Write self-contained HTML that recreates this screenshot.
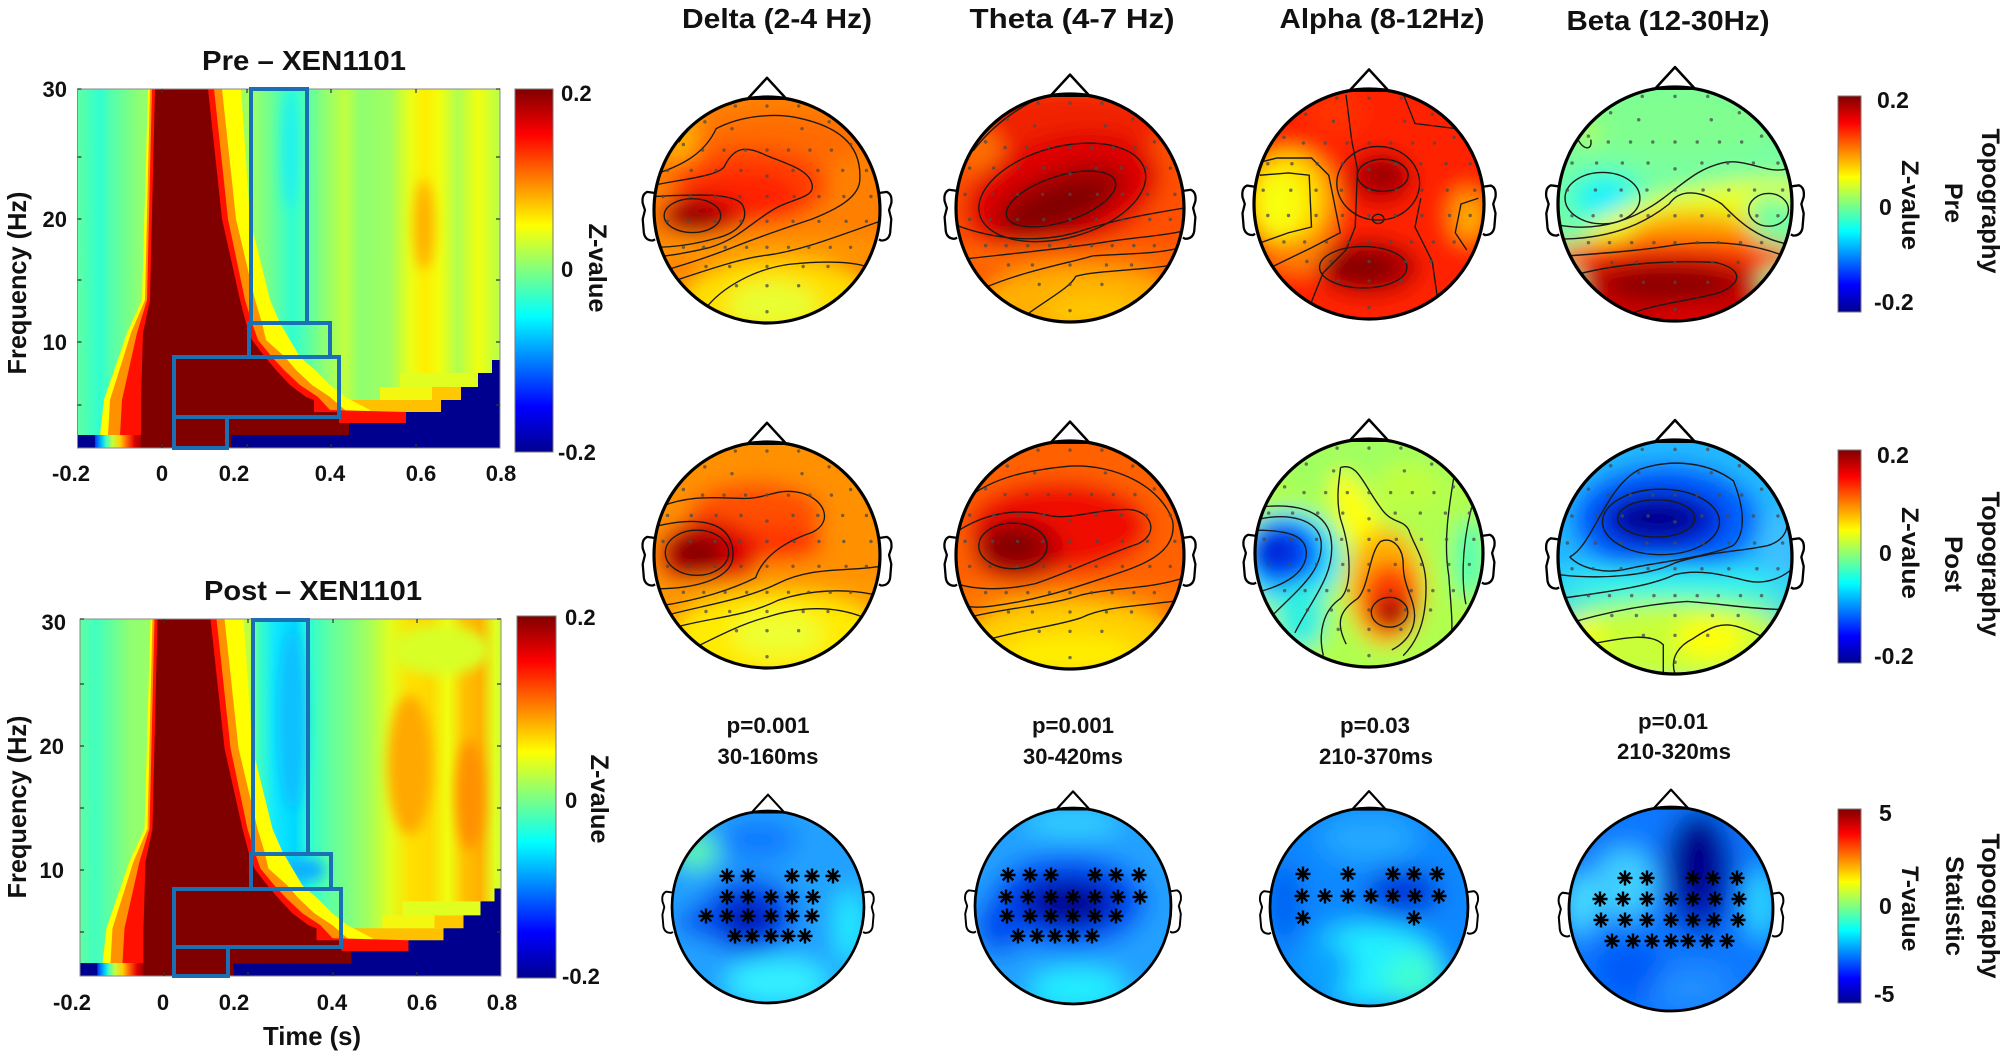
<!DOCTYPE html>
<html><head><meta charset="utf-8">
<style>
html,body{margin:0;padding:0;background:#fff}
svg{display:block}
text{font-family:"Liberation Sans",Arial,sans-serif;font-weight:bold;fill:#111}
</style></head>
<body>
<svg width="2006" height="1056" viewBox="0 0 2006 1056" xmlns="http://www.w3.org/2000/svg">
<defs>
<linearGradient id="jet" x1="0" y1="0" x2="0" y2="1">
<stop offset="0" stop-color="#800000"/><stop offset=".125" stop-color="#ff0000"/><stop offset=".375" stop-color="#ffff00"/><stop offset=".5" stop-color="#80ff80"/><stop offset=".625" stop-color="#00ffff"/><stop offset=".875" stop-color="#0000ff"/><stop offset="1" stop-color="#00008f"/>
</linearGradient>
<linearGradient id="hbPre" gradientUnits="userSpaceOnUse" x1="77.5" y1="0" x2="500" y2="0">
<stop offset="0" stop-color="#60ffa0"/><stop offset=".034" stop-color="#40ffc0"/><stop offset=".053" stop-color="#30ffd0"/><stop offset=".077" stop-color="#50ffb0"/><stop offset=".112" stop-color="#70ff90"/><stop offset=".148" stop-color="#90ff70"/><stop offset=".408" stop-color="#a0ff60"/><stop offset=".456" stop-color="#70ff90"/><stop offset=".508" stop-color="#30ffd0"/><stop offset=".538" stop-color="#50ffb0"/><stop offset=".586" stop-color="#90ff70"/><stop offset=".633" stop-color="#c0ff40"/><stop offset=".669" stop-color="#90ff70"/><stop offset=".74" stop-color="#a0ff60"/><stop offset=".787" stop-color="#e8ff18"/><stop offset=".822" stop-color="#ffee00"/><stop offset=".858" stop-color="#f0ff10"/><stop offset=".9" stop-color="#b0ff50"/><stop offset=".948" stop-color="#f0ff10"/><stop offset="1" stop-color="#b8ff48"/>
</linearGradient>
<linearGradient id="hbPost" gradientUnits="userSpaceOnUse" x1="80" y1="0" x2="501" y2="0">
<stop offset="0" stop-color="#60ffa0"/><stop offset=".036" stop-color="#40ffc0"/><stop offset=".071" stop-color="#60ffa0"/><stop offset=".119" stop-color="#90ff70"/><stop offset=".404" stop-color="#c0ff40"/><stop offset=".423" stop-color="#40ffc0"/><stop offset=".463" stop-color="#10e8ff"/><stop offset=".51" stop-color="#00d8ff"/><stop offset=".546" stop-color="#30ffd0"/><stop offset=".594" stop-color="#60ffa0"/><stop offset=".641" stop-color="#80ff80"/><stop offset=".689" stop-color="#a8ff58"/><stop offset=".736" stop-color="#e0ff20"/><stop offset=".784" stop-color="#ffe000"/><stop offset=".831" stop-color="#ffd800"/><stop offset=".874" stop-color="#f0ff10"/><stop offset=".914" stop-color="#ffc000"/><stop offset=".95" stop-color="#ffb000"/><stop offset=".986" stop-color="#e0ff20"/><stop offset="1" stop-color="#d0ff30"/>
</linearGradient>
<linearGradient id="brow" gradientUnits="userSpaceOnUse" x1="77.5" y1="0" x2="141" y2="0">
<stop offset="0" stop-color="#00008f"/><stop offset=".27" stop-color="#00008f"/><stop offset=".28" stop-color="#0040ff"/><stop offset=".38" stop-color="#00c0ff"/><stop offset=".45" stop-color="#40ffc0"/><stop offset=".55" stop-color="#c0ff40"/><stop offset=".67" stop-color="#ffd000"/><stop offset=".78" stop-color="#ff6000"/><stop offset=".9" stop-color="#e00000"/><stop offset="1" stop-color="#a00000"/>
</linearGradient>
<filter id="bl" x="-20%" y="-20%" width="140%" height="140%"><feGaussianBlur stdDeviation="9"/></filter>
<filter id="bl2" x="-20%" y="-20%" width="140%" height="140%"><feGaussianBlur stdDeviation="13"/></filter>
<filter id="hb" x="-50%" y="-50%" width="200%" height="200%"><feGaussianBlur stdDeviation="6"/></filter>
<clipPath id="cc"><circle cx="0" cy="0" r="100"/></clipPath>
<clipPath id="cpre"><rect x="77.5" y="89" width="422.5" height="359"/></clipPath>
<clipPath id="cpost"><rect x="80" y="619" width="421" height="357"/></clipPath>

<g id="head">
<polygon points="-17,-98.5 0,-117 17,-98.5" fill="#fff" stroke="#000" stroke-width="2.2" stroke-linejoin="round"/>
<path d="M-99,-15 L-106,-16 Q-111,-14 -110,-6 L-108,0 L-110,8 L-109,20 Q-108,27 -101,27 L-99,26" fill="#fff" stroke="#000" stroke-width="2"/>
<path d="M99,-15 L106,-16 Q111,-14 110,-6 L108,0 L110,8 L109,20 Q108,27 101,27 L99,26" fill="#fff" stroke="#000" stroke-width="2"/>
<circle cx="0" cy="0" r="100" fill="none" stroke="#000" stroke-width="2.8"/>
</g>

<g id="el" fill="#4a4a4a" opacity=".75">
<circle cx="-28" cy="-92" r="1.5"/><circle cx="0" cy="-92" r="1.5"/><circle cx="28" cy="-92" r="1.5"/>
<circle cx="-55" cy="-78" r="1.5"/><circle cx="55" cy="-78" r="1.5"/><circle cx="-31" cy="-72" r="1.5"/><circle cx="31" cy="-72" r="1.5"/>
<circle cx="-74" cy="-58" r="1.5"/><circle cx="74" cy="-58" r="1.5"/>
<circle cx="-57" cy="-53" r="1.5"/><circle cx="-38" cy="-53" r="1.5"/><circle cx="-19" cy="-53" r="1.5"/><circle cx="0" cy="-53" r="1.5"/><circle cx="19" cy="-53" r="1.5"/><circle cx="38" cy="-53" r="1.5"/><circle cx="57" cy="-53" r="1.5"/>
<circle cx="-88" cy="-35" r="1.5"/><circle cx="-67" cy="-35" r="1.5"/><circle cx="-45" cy="-35" r="1.5"/><circle cx="-23" cy="-35" r="1.5"/><circle cx="23" cy="-35" r="1.5"/><circle cx="45" cy="-35" r="1.5"/><circle cx="67" cy="-35" r="1.5"/><circle cx="88" cy="-35" r="1.5"/><circle cx="0" cy="-30" r="1.5"/>
<circle cx="-92" cy="-12" r="1.5"/><circle cx="-68" cy="-12" r="1.5"/><circle cx="-46" cy="-12" r="1.5"/><circle cx="-24" cy="-12" r="1.5"/><circle cx="0" cy="-12" r="1.5"/><circle cx="24" cy="-12" r="1.5"/><circle cx="46" cy="-12" r="1.5"/><circle cx="68" cy="-12" r="1.5"/><circle cx="92" cy="-12" r="1.5"/>
<circle cx="-88" cy="10" r="1.5"/><circle cx="-70" cy="10" r="1.5"/><circle cx="-46" cy="10" r="1.5"/><circle cx="-23" cy="10" r="1.5"/><circle cx="0" cy="10" r="1.5"/><circle cx="23" cy="10" r="1.5"/><circle cx="46" cy="10" r="1.5"/><circle cx="70" cy="10" r="1.5"/><circle cx="88" cy="10" r="1.5"/>
<circle cx="-74" cy="33" r="1.5"/><circle cx="-56" cy="33" r="1.5"/><circle cx="-37" cy="33" r="1.5"/><circle cx="-18" cy="33" r="1.5"/><circle cx="0" cy="33" r="1.5"/><circle cx="19" cy="33" r="1.5"/><circle cx="37" cy="33" r="1.5"/><circle cx="56" cy="33" r="1.5"/><circle cx="74" cy="33" r="1.5"/>
<circle cx="-54" cy="50" r="1.5"/><circle cx="-33" cy="50" r="1.5"/><circle cx="0" cy="50" r="1.5"/><circle cx="32" cy="50" r="1.5"/><circle cx="54" cy="50" r="1.5"/>
<circle cx="-27" cy="67" r="1.5"/><circle cx="0" cy="67" r="1.5"/><circle cx="28" cy="67" r="1.5"/><circle cx="0" cy="90" r="1.5"/>
</g>

<g id="st"><path d="M-7.5,0H7.5M0,-7.5V7.5M-5.3,-5.3L5.3,5.3M-5.3,5.3L5.3,-5.3" stroke="#000" stroke-width="2.4" fill="none"/><circle r="2.2" fill="#000"/></g>

<g id="wedge">
<rect x="330" y="400" width="111" height="12" fill="#ffc000"/>
<rect x="380" y="387" width="81" height="13" fill="#f4f810"/>
<rect x="432" y="387" width="29" height="13" fill="#ffc800"/>
<rect x="400" y="373" width="78" height="14" fill="#e0ff20"/>
<polygon fill="#ffff00" points="148,89 142,300 127,333 104,400 100,435 380,435 370,410 345,397 330,385 315,370 300,357 290,340 280,323 270,300 250,219 241,89"/>
<polygon fill="#ff9000" points="150,89 145,300 131,333 110,400 108,435 350,435 345,410 330,397 312,385 296,370 285,357 266,340 262,323 255,300 236,219 222,89"/>
<polygon fill="#ff1000" points="152,89 147,300 137,333 122,400 120,435 349,435 349,423 406,423 406,412 330,410 318,397 300,385 284,370 272,357 258,340 252,323 245,300 228,219 214,89"/>
<polygon fill="#800000" points="155,89 150,300 143,333 141,400 141,448 231,448 231,435 349,435 349,423 339,423 339,412 314,412 314,400 306,397 290,385 276,370 265,357 252,340 246,323 240,300 222,219 208,89"/>
<rect x="77.5" y="435" width="63.5" height="13" fill="url(#brow)"/>
<polygon fill="#00008f" points="500,360 492,360 492,373 478,373 478,387 461,387 461,400 441,400 441,412 406,412 406,423 349,423 349,435 231,435 231,448 500,448"/>
</g>
</defs>

<rect width="2006" height="1056" fill="#fff"/>

<!-- ===== Pre heatmap ===== -->
<text x="304" y="70" text-anchor="middle" font-size="28" textLength="204" lengthAdjust="spacingAndGlyphs">Pre – XEN1101</text>
<g clip-path="url(#cpre)">
<rect x="77.5" y="89" width="422.5" height="359" fill="url(#hbPre)"/>
<g filter="url(#hb)"><ellipse cx="424" cy="225" rx="10" ry="45" fill="#ffb000"/><ellipse cx="290" cy="150" rx="8" ry="60" fill="#20f0f0"/></g>
<use href="#wedge"/>
</g>
<rect x="77.5" y="89" width="422.5" height="359" fill="none" stroke="#8a8a8a" stroke-width="1"/>
<g stroke="#333" stroke-width="1.2">
<path d="M77.5,89h4M77.5,157h4M77.5,219h4M77.5,280h4M77.5,342h4M77.5,405h4M500,89h-4M500,157h-4M500,219h-4M500,280h-4M500,342h-4M500,405h-4"/>
<path d="M162,89v4M247,89v4M331,89v4M416,89v4M162,448v-4M247,448v-4M331,448v-4M416,448v-4"/>
</g>
<g stroke="#1a6fb5" stroke-width="4" fill="none">
<rect x="251" y="89" width="56" height="234"/>
<rect x="249" y="323" width="81" height="34"/>
<rect x="174" y="357" width="165" height="60"/>
<rect x="174" y="417" width="53" height="31"/>
</g>
<g font-size="22" text-anchor="end">
<text x="67" y="97">30</text><text x="67" y="227">20</text><text x="67" y="350">10</text>
</g>
<g font-size="22" text-anchor="middle">
<text x="71" y="481">-0.2</text><text x="162" y="481">0</text><text x="234" y="481">0.2</text><text x="330" y="481">0.4</text><text x="421" y="481">0.6</text><text x="501" y="481">0.8</text>
</g>
<text transform="translate(26,283) rotate(-90)" text-anchor="middle" font-size="26" textLength="183" lengthAdjust="spacingAndGlyphs">Frequency (Hz)</text>
<rect x="515" y="89" width="38" height="363" fill="url(#jet)" stroke="#777" stroke-width="1"/>
<g font-size="22"><text x="561" y="101">0.2</text><text x="561" y="277">0</text><text x="558" y="460">-0.2</text></g>
<text transform="translate(589,268) rotate(90)" text-anchor="middle" font-size="25" textLength="89" lengthAdjust="spacingAndGlyphs">Z-value</text>

<!-- ===== Post heatmap ===== -->
<text x="313" y="600" text-anchor="middle" font-size="28" textLength="218" lengthAdjust="spacingAndGlyphs">Post – XEN1101</text>
<g clip-path="url(#cpost)">
<rect x="80" y="619" width="421" height="357" fill="url(#hbPost)"/>
<g filter="url(#hb)">
<ellipse cx="410" cy="765" rx="22" ry="70" fill="#ffa800"/>
<ellipse cx="470" cy="795" rx="14" ry="55" fill="#ff9000"/>
<ellipse cx="292" cy="720" rx="14" ry="90" fill="#10c0ff"/>
<ellipse cx="305" cy="870" rx="20" ry="12" fill="#10b0ff"/>
<ellipse cx="440" cy="650" rx="50" ry="25" fill="#d8ff28"/>
</g>
<use href="#wedge" transform="matrix(1 0 0 0.9944 2.5 530.5)"/>
</g>
<rect x="80" y="619" width="421" height="357" fill="none" stroke="#8a8a8a" stroke-width="1"/>
<g stroke="#333" stroke-width="1.2">
<path d="M80,619h4M80,684h4M80,746h4M80,808h4M80,870h4M80,932h4M501,619h-4M501,684h-4M501,746h-4M501,808h-4M501,870h-4M501,932h-4"/>
<path d="M164,619v4M248,619v4M333,619v4M417,619v4M164,976v-4M248,976v-4M333,976v-4M417,976v-4"/>
</g>
<g stroke="#1a6fb5" stroke-width="4" fill="none">
<rect x="253" y="620" width="55" height="234"/>
<rect x="251" y="854" width="80" height="35"/>
<rect x="174" y="889" width="167" height="58"/>
<rect x="174" y="947" width="54" height="29"/>
</g>
<g font-size="22" text-anchor="end">
<text x="66" y="630">30</text><text x="64" y="754">20</text><text x="64" y="878">10</text>
</g>
<g font-size="22" text-anchor="middle">
<text x="72" y="1010">-0.2</text><text x="163" y="1010">0</text><text x="234" y="1010">0.2</text><text x="332" y="1010">0.4</text><text x="422" y="1010">0.6</text><text x="502" y="1010">0.8</text>
</g>
<text x="312" y="1045" text-anchor="middle" font-size="26" textLength="98" lengthAdjust="spacingAndGlyphs">Time (s)</text>
<text transform="translate(26,807) rotate(-90)" text-anchor="middle" font-size="26" textLength="183" lengthAdjust="spacingAndGlyphs">Frequency (Hz)</text>
<rect x="517" y="616" width="39" height="362" fill="url(#jet)" stroke="#777" stroke-width="1"/>
<g font-size="22"><text x="565" y="625">0.2</text><text x="565" y="808">0</text><text x="562" y="984">-0.2</text></g>
<text transform="translate(591,799) rotate(90)" text-anchor="middle" font-size="25" textLength="89" lengthAdjust="spacingAndGlyphs">Z-value</text>

<!-- ===== Column titles ===== -->
<g font-size="28" text-anchor="middle">
<text x="777" y="28" textLength="190" lengthAdjust="spacingAndGlyphs">Delta (2-4 Hz)</text>
<text x="1072" y="28" textLength="205" lengthAdjust="spacingAndGlyphs">Theta (4-7 Hz)</text>
<text x="1382" y="28" textLength="205" lengthAdjust="spacingAndGlyphs">Alpha (8-12Hz)</text>
<text x="1668" y="30" textLength="203" lengthAdjust="spacingAndGlyphs">Beta (12-30Hz)</text>
</g>

<!-- ===== Row 1: Pre topographies ===== -->
<g transform="translate(767,210) scale(1.13)">
<g clip-path="url(#cc)">
<g filter="url(#bl)">
<rect x="-150" y="-150" width="300" height="300" fill="#ff8000"/>
<ellipse cx="-75" cy="-62" rx="22" ry="18" fill="#ffb000"/>
<ellipse cx="10" cy="-60" rx="75" ry="25" fill="#ff6a00"/>
<ellipse cx="-15" cy="-22" rx="70" ry="34" fill="#ff4000"/>
<ellipse cx="-20" cy="-12" rx="50" ry="22" fill="#ff2000"/>
<ellipse cx="-58" cy="5" rx="38" ry="18" fill="#d00000"/>
<ellipse cx="-65" cy="5" rx="22" ry="11" fill="#8b0000"/>
<ellipse cx="0" cy="35" rx="110" ry="12" fill="#ff9a00"/>
<ellipse cx="10" cy="80" rx="85" ry="35" fill="#ffe000"/>
<ellipse cx="5" cy="84" rx="40" ry="20" fill="#e8ff30"/>
</g>
<g fill="none" stroke="#1a1a1a" stroke-width="1.2">
<ellipse cx="-66" cy="5" rx="25" ry="15"/>
<path d="M-100,-12 C-60,-14 -30,-15 -22,-5 C-15,8 -25,20 -45,25 C-70,32 -90,33 -100,33"/>
<path d="M-100,-22 C-70,-28 -45,-30 -38,-38 C-30,-55 -20,-58 0,-48 C20,-40 38,-35 40,-22 C42,-10 20,-10 5,0 C-15,12 -25,25 -50,33 C-70,38 -85,40 -100,42"/>
<path d="M-95,-33 C-75,-40 -55,-50 -45,-72 C-20,-85 10,-85 25,-82 C60,-75 85,-60 82,-25 C80,-10 60,0 40,8 C10,18 -10,25 -30,33 C-60,45 -80,50 -95,55"/>
<path d="M-80,62 C-50,52 -20,42 0,40 C30,36 60,24 100,10"/>
<path d="M-55,88 C-40,68 -10,52 20,48 C50,45 80,45 92,52"/>
<path d="M-78,-60 C-70,-72 -60,-80 -55,-86"/>
</g>
<use href="#el"/>
</g>
<use href="#head"/>
</g>

<g transform="translate(1070,208) scale(1.14)">
<g clip-path="url(#cc)">
<g filter="url(#bl)">
<rect x="-150" y="-150" width="300" height="300" fill="#ff5000"/>
<ellipse cx="0" cy="-75" rx="85" ry="30" fill="#f02000"/>
<ellipse cx="-78" cy="-50" rx="18" ry="20" fill="#ff7000"/>
<ellipse cx="-3" cy="-15" rx="88" ry="50" transform="rotate(-15)" fill="#e00000"/>
<ellipse cx="-5" cy="-10" rx="62" ry="27" transform="rotate(-20)" fill="#a80000"/>
<ellipse cx="-10" cy="-5" rx="48" ry="16" transform="rotate(-20)" fill="#800000"/>
<ellipse cx="0" cy="45" rx="110" ry="12" fill="#ff7000"/>
<ellipse cx="10" cy="82" rx="90" ry="30" fill="#ffb000"/>
<ellipse cx="20" cy="92" rx="40" ry="15" fill="#ffc800"/>
</g>
<g fill="none" stroke="#1a1a1a" stroke-width="1.2">
<ellipse cx="-5" cy="-10" rx="50" ry="20" transform="rotate(-18)"/>
<ellipse cx="-3" cy="-15" rx="75" ry="40" transform="rotate(-15)"/>
<path d="M-100,15 C-60,30 -20,30 10,20 C40,10 70,5 100,0"/>
<path d="M-95,45 C-50,40 0,35 30,30 C60,25 80,25 100,20"/>
<path d="M-75,70 C-40,55 0,48 20,42 C50,40 80,40 95,35"/>
<path d="M-40,95 C-20,80 0,70 5,60 C20,55 60,55 90,50"/>
<path d="M-85,-50 C-70,-70 -50,-85 -30,-95"/>
</g>
<use href="#el"/>
</g>
<use href="#head"/>
</g>

<g transform="translate(1369,204) scale(1.15)">
<g clip-path="url(#cc)">
<g filter="url(#bl)">
<rect x="-150" y="-150" width="300" height="300" fill="#ff2200"/>
<ellipse cx="-68" cy="-2" rx="42" ry="48" fill="#ff9000"/>
<ellipse cx="-72" cy="-5" rx="32" ry="38" fill="#ffe000"/>
<ellipse cx="-78" cy="0" rx="20" ry="28" fill="#f8ff10"/>
<ellipse cx="-55" cy="45" rx="35" ry="15" fill="#ff8000"/>
<ellipse cx="85" cy="10" rx="16" ry="25" fill="#ff9000"/>
<ellipse cx="90" cy="12" rx="8" ry="12" fill="#ffc000"/>
<ellipse cx="10" cy="-22" rx="30" ry="25" fill="#d00000"/>
<ellipse cx="12" cy="-25" rx="18" ry="11" fill="#880000"/>
<ellipse cx="0" cy="55" rx="45" ry="25" fill="#c00000"/>
<ellipse cx="-5" cy="55" rx="32" ry="15" fill="#850000"/>
<ellipse cx="-30" cy="-80" rx="25" ry="20" fill="#ff3000"/>
</g>
<g fill="none" stroke="#1a1a1a" stroke-width="1.2">
<ellipse cx="12" cy="-25" rx="22" ry="14"/>
<ellipse cx="8" cy="-18" rx="36" ry="32"/>
<ellipse cx="-5" cy="55" rx="38" ry="18"/>
<ellipse cx="8" cy="13" rx="5" ry="4"/>
<path d="M-95,-25 L-70,-27 L-52,-25 L-50,20 L-70,25 L-98,35"/>
<path d="M-100,-35 L-80,-40 L-50,-40 L-35,-25 L-30,0 L-25,25 L-50,38 L-85,55"/>
<path d="M-20,-95 L-15,-55 L-10,-30 L-12,20 L-20,40 L-40,60 L-50,85"/>
<path d="M30,-95 L40,-70 L80,-65"/>
<path d="M45,-5 L40,20 L55,50 L60,85"/>
<path d="M95,-5 L80,0 L75,25 L85,40"/>
</g>
<use href="#el"/>
</g>
<use href="#head"/>
</g>

<g transform="translate(1675,204) scale(1.17)">
<g clip-path="url(#cc)">
<g filter="url(#bl)">
<rect x="-150" y="-150" width="300" height="300" fill="#78ffa0"/>
<ellipse cx="0" cy="-70" rx="90" ry="30" fill="#80ff90"/>
<ellipse cx="-60" cy="-5" rx="35" ry="25" fill="#40ffd0"/>
<ellipse cx="-60" cy="-5" rx="20" ry="14" fill="#10f0ff"/>
<ellipse cx="-75" cy="-60" rx="12" ry="10" fill="#b0ff50"/>
<ellipse cx="15" cy="10" rx="95" ry="20" transform="rotate(-12)" fill="#e8ff20"/>
<ellipse cx="15" cy="27" rx="55" ry="20" fill="#ffa000"/>
<ellipse cx="0" cy="45" rx="110" ry="16" fill="#ff4000"/>
<ellipse cx="0" cy="100" rx="110" ry="35" fill="#d00000"/>
<ellipse cx="-5" cy="64" rx="80" ry="20" fill="#c00000"/>
<ellipse cx="-5" cy="70" rx="55" ry="15" fill="#8a0000"/>
<ellipse cx="10" cy="95" rx="25" ry="10" fill="#e00000"/>
<ellipse cx="80" cy="5" rx="16" ry="14" fill="#70ffa0"/>
</g>
<g fill="none" stroke="#1a1a1a" stroke-width="1.2">
<ellipse cx="-62" cy="-5" rx="32" ry="22"/>
<ellipse cx="80" cy="5" rx="17" ry="14"/>
<path d="M-100,18 C-60,25 -30,10 -10,-5 C10,-20 20,-30 40,-35 C60,-40 80,-25 95,-30"/>
<path d="M-100,30 C-60,30 -30,20 -5,0 C5,-15 25,-10 40,0 C55,15 70,30 100,35"/>
<path d="M-100,45 C-60,42 -30,40 0,35 C40,30 70,35 95,45"/>
<path d="M-90,62 C-50,50 0,48 35,50 C55,55 60,65 40,75 C20,82 -20,85 -40,95"/>
<path d="M-85,-60 C-80,-45 -70,-45 -72,-55"/>
</g>
<use href="#el"/>
</g>
<use href="#head"/>
</g>

<!-- ===== Row 2: Post topographies ===== -->
<g transform="translate(767,555) scale(1.13)">
<g clip-path="url(#cc)">
<g filter="url(#bl)">
<rect x="-150" y="-150" width="300" height="300" fill="#ff9000"/>
<ellipse cx="-10" cy="-35" rx="60" ry="30" fill="#ff5000"/>
<ellipse cx="10" cy="-10" rx="40" ry="15" fill="#ff3000"/>
<ellipse cx="-52" cy="0" rx="45" ry="32" fill="#e00000"/>
<ellipse cx="-62" cy="-2" rx="26" ry="18" fill="#880000"/>
<ellipse cx="0" cy="33" rx="110" ry="12" fill="#ffa000"/>
<ellipse cx="10" cy="72" rx="95" ry="38" fill="#ffec00"/>
<ellipse cx="10" cy="70" rx="40" ry="20" fill="#eeff30"/>
</g>
<g fill="none" stroke="#1a1a1a" stroke-width="1.2">
<ellipse cx="-62" cy="-2" rx="28" ry="20"/>
<path d="M-100,-25 C-60,-35 -30,-30 -30,0 C-30,20 -60,30 -100,30"/>
<path d="M-100,-40 C-70,-55 -40,-50 -20,-50 C0,-50 10,-60 30,-55 C50,-50 60,-30 40,-20 C10,-10 -5,5 -10,20 C-30,30 -60,40 -95,45"/>
<path d="M-95,55 C-60,45 -20,40 10,25 C40,10 70,15 100,10"/>
<path d="M-85,65 C-50,55 -20,55 10,40 C40,30 70,30 95,35"/>
<path d="M-70,85 C-40,70 -20,60 0,55 C30,45 60,45 85,55"/>
</g>
<use href="#el"/>
</g>
<use href="#head"/>
</g>

<g transform="translate(1070,555) scale(1.14)">
<g clip-path="url(#cc)">
<g filter="url(#bl)">
<rect x="-150" y="-150" width="300" height="300" fill="#ff6000"/>
<ellipse cx="-10" cy="-25" rx="80" ry="40" fill="#f01000"/>
<ellipse cx="-45" cy="-5" rx="40" ry="28" fill="#c00000"/>
<ellipse cx="-50" cy="-8" rx="28" ry="18" fill="#850000"/>
<ellipse cx="0" cy="38" rx="110" ry="12" fill="#ff8000"/>
<ellipse cx="0" cy="75" rx="95" ry="35" fill="#ffd000"/>
<ellipse cx="0" cy="88" rx="60" ry="18" fill="#ffee00"/>
</g>
<g fill="none" stroke="#1a1a1a" stroke-width="1.2">
<ellipse cx="-50" cy="-8" rx="30" ry="20"/>
<path d="M-100,-20 C-70,-40 -40,-40 -20,-35 C0,-30 20,-40 50,-40 C70,-40 80,-20 60,-10 C30,0 0,15 -30,25 C-60,32 -85,30 -100,25"/>
<path d="M-95,-45 C-70,-70 -30,-75 0,-78 C40,-80 80,-60 90,-30 C95,0 60,10 30,20 C0,30 -30,40 -70,45 C-85,47 -95,45 -100,40"/>
<path d="M-90,55 C-50,45 -20,45 10,35 C40,28 70,30 100,20"/>
<path d="M-75,75 C-40,65 -10,62 10,55 C30,45 60,45 95,40"/>
</g>
<use href="#el"/>
</g>
<use href="#head"/>
</g>

<g transform="translate(1369,553) scale(1.14)">
<g clip-path="url(#cc)">
<g filter="url(#bl)">
<rect x="-150" y="-150" width="300" height="300" fill="#b0ff50"/>
<ellipse cx="0" cy="-75" rx="80" ry="30" fill="#a0ff60"/>
<ellipse cx="35" cy="-60" rx="30" ry="20" fill="#c0ff40"/>
<ellipse cx="-70" cy="5" rx="45" ry="42" fill="#20e0ff"/>
<ellipse cx="-75" cy="0" rx="32" ry="29" fill="#0050ff"/>
<ellipse cx="-82" cy="-2" rx="20" ry="17" fill="#0028d8"/>
<ellipse cx="-60" cy="55" rx="22" ry="30" fill="#30f0e0"/>
<ellipse cx="-8" cy="-28" rx="16" ry="48" transform="rotate(-25 -8 -28)" fill="#ffff00"/>
<ellipse cx="15" cy="30" rx="34" ry="52" fill="#ffb000"/>
<ellipse cx="18" cy="40" rx="25" ry="32" fill="#ff4000"/>
<ellipse cx="20" cy="52" rx="16" ry="14" fill="#a00000"/>
<ellipse cx="88" cy="5" rx="14" ry="35" fill="#50ffb0"/>
</g>
<g fill="none" stroke="#1a1a1a" stroke-width="1.2">
<ellipse cx="18" cy="52" rx="16" ry="13"/>
<path d="M-100,-20 C-70,-20 -55,-15 -55,0 C-55,20 -80,30 -100,35"/>
<path d="M-95,-30 C-70,-35 -45,-30 -42,-10 C-40,15 -60,30 -85,55"/>
<path d="M-98,-40 C-60,-45 -35,-35 -33,-10 C-30,20 -50,40 -65,70"/>
<path d="M-25,-75 C-10,-80 -5,-60 10,-40 C20,-25 30,-30 35,-20 C40,-5 50,5 50,30 C50,55 45,75 30,90"/>
<path d="M-40,90 C-45,70 -40,50 -25,40 C-15,30 -15,0 -25,-30 C-30,-50 -25,-70 -25,-75"/>
<path d="M-20,80 C-30,60 -25,50 -10,40 C0,30 0,0 10,-10 C20,-15 30,-5 30,10 C30,30 40,40 40,55 C40,70 30,80 20,85"/>
<path d="M75,-70 C70,-40 65,-10 70,20 C72,50 75,70 70,80"/>
<path d="M90,-40 C80,0 82,30 85,45"/>
</g>
<use href="#el"/>
</g>
<use href="#head"/>
</g>

<g transform="translate(1675,557) scale(1.17)">
<g clip-path="url(#cc)">
<g filter="url(#bl)">
<rect x="-150" y="-150" width="300" height="300" fill="#20b8ff"/>
<ellipse cx="-8" cy="-32" rx="80" ry="48" fill="#0060ff"/>
<ellipse cx="-12" cy="-32" rx="55" ry="28" fill="#0028d8"/>
<ellipse cx="-15" cy="-33" rx="38" ry="16" fill="#000090"/>
<ellipse cx="0" cy="20" rx="110" ry="12" fill="#30f0f0"/>
<ellipse cx="0" cy="40" rx="110" ry="10" fill="#60ffb0"/>
<ellipse cx="0" cy="75" rx="110" ry="35" fill="#c8ff38"/>
<ellipse cx="30" cy="70" rx="30" ry="18" fill="#ffff00"/>
<ellipse cx="-80" cy="70" rx="20" ry="20" fill="#f0ff10"/>
<ellipse cx="90" cy="-10" rx="15" ry="30" fill="#40c0ff"/>
</g>
<g fill="none" stroke="#1a1a1a" stroke-width="1.2">
<ellipse cx="-16" cy="-33" rx="33" ry="16"/>
<ellipse cx="-12" cy="-30" rx="50" ry="28"/>
<path d="M-90,0 C-70,-10 -60,-60 -30,-75 C0,-85 30,-80 50,-65 C60,-40 60,-20 50,-10 C30,0 -20,5 -40,10 C-60,15 -80,10 -90,0"/>
<path d="M-100,15 C-60,20 -20,15 0,5 C30,-5 60,-5 80,-10 C95,-15 98,-25 95,-40"/>
<path d="M-95,35 C-60,30 -20,25 0,15 C20,10 40,15 60,20 C80,25 95,15 100,10"/>
<path d="M-85,55 C-50,45 -20,40 10,38 C40,40 70,45 95,45"/>
<path d="M-75,75 C-40,68 -20,65 -10,75 L-10,100"/>
<path d="M0,100 C-5,85 5,75 15,70 C30,60 40,55 55,60 C70,65 80,70 90,80"/>
</g>
<use href="#el"/>
</g>
<use href="#head"/>
</g>

<!-- ===== p-values ===== -->
<g font-size="22" text-anchor="middle">
<text x="768" y="733" textLength="83" lengthAdjust="spacingAndGlyphs">p=0.001</text>
<text x="768" y="764" textLength="101" lengthAdjust="spacingAndGlyphs">30-160ms</text>
<text x="1073" y="733" textLength="82" lengthAdjust="spacingAndGlyphs">p=0.001</text>
<text x="1073" y="764" textLength="100" lengthAdjust="spacingAndGlyphs">30-420ms</text>
<text x="1375" y="733" textLength="70" lengthAdjust="spacingAndGlyphs">p=0.03</text>
<text x="1376" y="764" textLength="114" lengthAdjust="spacingAndGlyphs">210-370ms</text>
<text x="1673" y="729" textLength="70" lengthAdjust="spacingAndGlyphs">p=0.01</text>
<text x="1674" y="759" textLength="114" lengthAdjust="spacingAndGlyphs">210-320ms</text>
</g>

<!-- ===== Row 3: Statistic topographies ===== -->
<g transform="translate(768,907) scale(0.96)">
<g clip-path="url(#cc)">
<g filter="url(#bl2)">
<rect x="-150" y="-150" width="300" height="300" fill="#20a0ff"/>
<ellipse cx="-10" cy="-70" rx="40" ry="20" fill="#1078ff"/>
<ellipse cx="-75" cy="-58" rx="22" ry="18" fill="#60ffa0"/>
<ellipse cx="-20" cy="8" rx="50" ry="40" fill="#0048f0"/>
<ellipse cx="-22" cy="12" rx="30" ry="22" fill="#0018b8"/>
<ellipse cx="-70" cy="15" rx="25" ry="15" fill="#0048f0"/>
<ellipse cx="10" cy="78" rx="55" ry="25" fill="#30f0ff"/>
<ellipse cx="85" cy="20" rx="15" ry="40" fill="#20f0ff"/>
</g>
</g>
<use href="#head"/>
</g>

<g transform="translate(1073,906) scale(0.98)">
<g clip-path="url(#cc)">
<g filter="url(#bl2)">
<rect x="-150" y="-150" width="300" height="300" fill="#20a0ff"/>
<ellipse cx="0" cy="-85" rx="50" ry="15" fill="#30d0ff"/>
<ellipse cx="-5" cy="-5" rx="80" ry="48" fill="#0050f8"/>
<ellipse cx="-5" cy="-3" rx="55" ry="28" fill="#0018c0"/>
<ellipse cx="-5" cy="-3" rx="35" ry="16" fill="#000080"/>
<ellipse cx="-75" cy="20" rx="25" ry="30" fill="#0048f0"/>
<ellipse cx="5" cy="85" rx="50" ry="22" fill="#20f0ff"/>
</g>
</g>
<use href="#head"/>
</g>

<g transform="translate(1369,907) scale(0.99)">
<g clip-path="url(#cc)">
<g filter="url(#bl2)">
<rect x="-150" y="-150" width="300" height="300" fill="#0a88ff"/>
<ellipse cx="0" cy="-70" rx="50" ry="25" fill="#20a8ff"/>
<ellipse cx="35" cy="-15" rx="38" ry="22" fill="#0030d8"/>
<ellipse cx="-85" cy="-5" rx="15" ry="40" fill="#0058f0"/>
<ellipse cx="0" cy="58" rx="70" ry="40" fill="#20f0ff"/>
<ellipse cx="45" cy="72" rx="30" ry="25" fill="#40ffd0"/>
<ellipse cx="-45" cy="62" rx="28" ry="28" fill="#10a0ff"/>
</g>
</g>
<use href="#head"/>
</g>

<g transform="translate(1671,909) scale(1.02)">
<g clip-path="url(#cc)">
<g filter="url(#bl2)">
<rect x="-150" y="-150" width="300" height="300" fill="#0878ff"/>
<ellipse cx="28" cy="-35" rx="35" ry="62" fill="#0020c0"/>
<ellipse cx="25" cy="-50" rx="25" ry="45" fill="#000088"/>
<ellipse cx="-45" cy="-25" rx="30" ry="35" fill="#40d0ff"/>
<ellipse cx="-88" cy="-5" rx="12" ry="30" fill="#50f0ff"/>
<ellipse cx="88" cy="-5" rx="12" ry="35" fill="#30e8ff"/>
<ellipse cx="-40" cy="60" rx="35" ry="30" fill="#0058f8"/>
<ellipse cx="20" cy="78" rx="40" ry="20" fill="#2090ff"/>
</g>
</g>
<use href="#head"/>
</g>

<!-- stars -->
<g>
<use href="#st" x="727" y="876"/><use href="#st" x="748" y="876"/><use href="#st" x="792" y="876"/><use href="#st" x="812" y="876"/><use href="#st" x="833" y="876"/>
<use href="#st" x="727" y="897"/><use href="#st" x="748" y="897"/><use href="#st" x="771" y="897"/><use href="#st" x="792" y="897"/><use href="#st" x="813" y="897"/>
<use href="#st" x="706" y="916"/><use href="#st" x="727" y="916"/><use href="#st" x="748" y="916"/><use href="#st" x="771" y="916"/><use href="#st" x="792" y="916"/><use href="#st" x="812" y="916"/>
<use href="#st" x="735" y="936"/><use href="#st" x="752" y="936"/><use href="#st" x="771" y="936"/><use href="#st" x="788" y="936"/><use href="#st" x="805" y="936"/>

<use href="#st" x="1008" y="875"/><use href="#st" x="1030" y="875"/><use href="#st" x="1051" y="875"/><use href="#st" x="1095" y="875"/><use href="#st" x="1116" y="875"/><use href="#st" x="1139" y="875"/>
<use href="#st" x="1006" y="897"/><use href="#st" x="1028" y="897"/><use href="#st" x="1051" y="897"/><use href="#st" x="1073" y="897"/><use href="#st" x="1095" y="897"/><use href="#st" x="1118" y="897"/><use href="#st" x="1140" y="897"/>
<use href="#st" x="1007" y="916"/><use href="#st" x="1030" y="916"/><use href="#st" x="1051" y="916"/><use href="#st" x="1073" y="916"/><use href="#st" x="1095" y="916"/><use href="#st" x="1116" y="916"/>
<use href="#st" x="1018" y="936"/><use href="#st" x="1037" y="936"/><use href="#st" x="1055" y="936"/><use href="#st" x="1073" y="936"/><use href="#st" x="1092" y="936"/>

<use href="#st" x="1303" y="874"/><use href="#st" x="1348" y="874"/><use href="#st" x="1393" y="874"/><use href="#st" x="1414" y="874"/><use href="#st" x="1437" y="874"/>
<use href="#st" x="1302" y="896"/><use href="#st" x="1325" y="896"/><use href="#st" x="1348" y="896"/><use href="#st" x="1371" y="896"/><use href="#st" x="1393" y="896"/><use href="#st" x="1415" y="896"/><use href="#st" x="1439" y="896"/>
<use href="#st" x="1303" y="918"/><use href="#st" x="1414" y="918"/>

<use href="#st" x="1625" y="878"/><use href="#st" x="1647" y="878"/><use href="#st" x="1693" y="878"/><use href="#st" x="1713" y="878"/><use href="#st" x="1737" y="878"/>
<use href="#st" x="1600" y="899"/><use href="#st" x="1623" y="899"/><use href="#st" x="1647" y="899"/><use href="#st" x="1671" y="899"/><use href="#st" x="1693" y="899"/><use href="#st" x="1715" y="899"/><use href="#st" x="1739" y="899"/>
<use href="#st" x="1601" y="920"/><use href="#st" x="1625" y="920"/><use href="#st" x="1647" y="920"/><use href="#st" x="1671" y="920"/><use href="#st" x="1693" y="920"/><use href="#st" x="1714" y="920"/><use href="#st" x="1738" y="920"/>
<use href="#st" x="1612" y="941"/><use href="#st" x="1633" y="941"/><use href="#st" x="1652" y="941"/><use href="#st" x="1671" y="941"/><use href="#st" x="1688" y="941"/><use href="#st" x="1707" y="941"/><use href="#st" x="1727" y="941"/>
</g>

<!-- ===== Right colorbars ===== -->
<rect x="1838" y="96" width="23" height="216" fill="url(#jet)" stroke="#777" stroke-width="1"/>
<rect x="1838" y="450" width="23" height="213" fill="url(#jet)" stroke="#777" stroke-width="1"/>
<rect x="1838" y="809" width="23" height="194" fill="url(#jet)" stroke="#777" stroke-width="1"/>
<g font-size="23">
<text x="1877" y="108">0.2</text><text x="1879" y="215">0</text><text x="1874" y="310">-0.2</text>
<text x="1877" y="463">0.2</text><text x="1879" y="561">0</text><text x="1874" y="664">-0.2</text>
<text x="1879" y="821">5</text><text x="1879" y="914">0</text><text x="1874" y="1002">-5</text>
</g>
<g font-size="24" text-anchor="middle">
<text transform="translate(1902,205) rotate(90)" textLength="90" lengthAdjust="spacingAndGlyphs">Z-value</text>
<text transform="translate(1902,553) rotate(90)" textLength="92" lengthAdjust="spacingAndGlyphs">Z-value</text>
<text transform="translate(1902,908) rotate(90)" textLength="87" lengthAdjust="spacingAndGlyphs"><tspan font-style="italic">T</tspan>-value</text>
</g>
<g font-size="25" text-anchor="middle">
<text transform="translate(1982,201) rotate(90)" textLength="145" lengthAdjust="spacingAndGlyphs">Topography</text>
<text transform="translate(1945,203) rotate(90)" textLength="40" lengthAdjust="spacingAndGlyphs">Pre</text>
<text transform="translate(1982,564) rotate(90)" textLength="145" lengthAdjust="spacingAndGlyphs">Topography</text>
<text transform="translate(1945,564) rotate(90)" textLength="56" lengthAdjust="spacingAndGlyphs">Post</text>
<text transform="translate(1982,906) rotate(90)" textLength="145" lengthAdjust="spacingAndGlyphs">Topography</text>
<text transform="translate(1946,906) rotate(90)" textLength="100" lengthAdjust="spacingAndGlyphs">Statistic</text>
</g>
</svg>
</body></html>
